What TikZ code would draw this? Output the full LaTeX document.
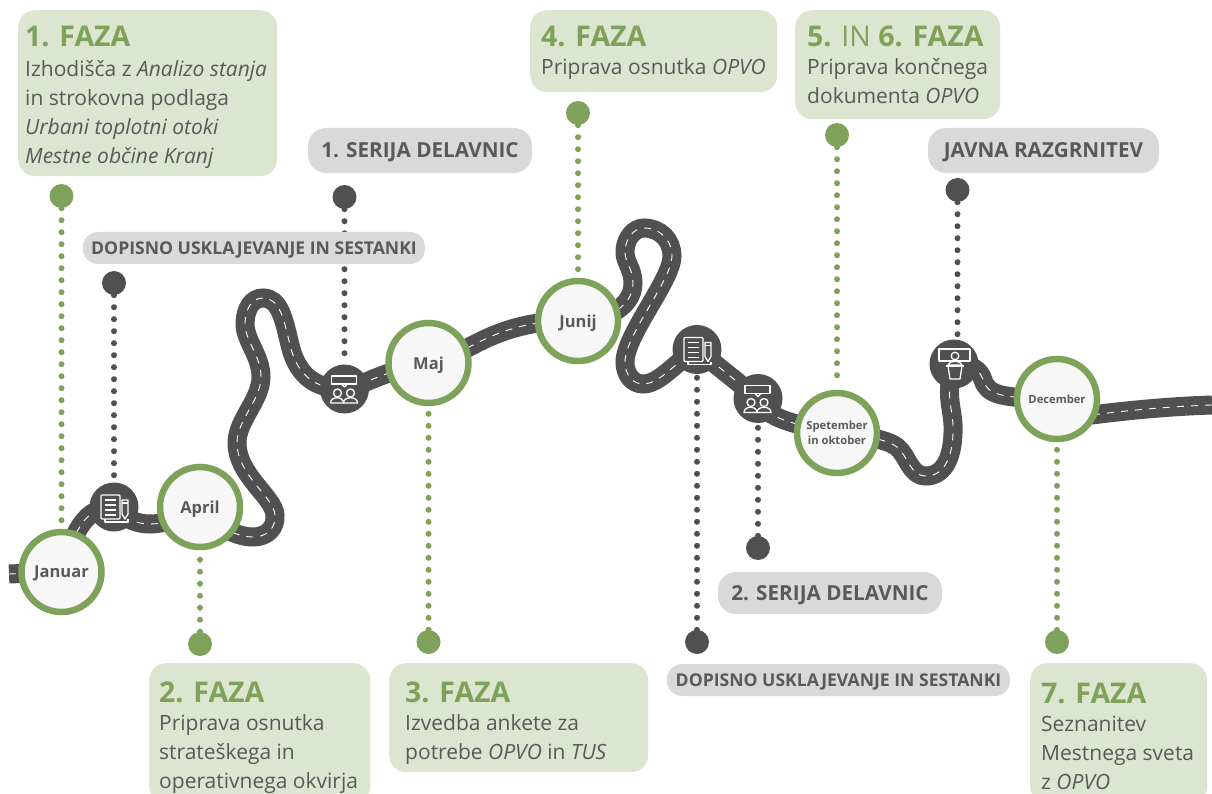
\documentclass[tikz,border=0pt]{standalone}
\usepackage{fontspec}
\setmainfont{Open Sans}
\usetikzlibrary{backgrounds}
\definecolor{leaf}{HTML}{7FA25A}
\definecolor{boxgreen}{HTML}{DCE5CF}
\definecolor{ink}{HTML}{595959}
\definecolor{roadgray}{HTML}{505050}
\definecolor{pillgray}{HTML}{D9D9D9}
\definecolor{disc}{HTML}{F7F7F7}
\tikzset{
  phasebox/.style={fill=boxgreen,draw=none,rounded corners=17pt,anchor=north west,inner sep=0pt,text width=0pt},
  pill/.style={fill=pillgray,rounded corners=15pt,inner sep=0pt,text=ink,text depth=0pt},
  pillbig/.style={pill,rounded corners=18pt,font=\bfseries\fontsize{20.7}{20.7}\selectfont},
  pillsmall/.style={pill,minimum height=32pt,font=\bfseries\fontsize{17.6}{17.6}\selectfont},
  phasetitle/.style={anchor=base west,inner sep=0pt,text=leaf,font=\fontsize{28.5}{28.5}\selectfont},
  phasetext/.style={anchor=north west,inner sep=0pt,text=ink,align=left,font=\fontsize{21}{29}\selectfont},
  month/.style={circle,draw=leaf,fill=disc,line width=6.5pt,minimum size=80pt,inner sep=0pt,text=ink,align=center},
  monthbig/.style={month,text depth=0pt,font=\bfseries\fontsize{16.5}{16.5}\selectfont},
  monthsmall/.style={month,font=\bfseries\fontsize{11.2}{14.5}\selectfont},
  icondisc/.style={circle,fill=roadgray,minimum size=49pt,inner sep=0pt},
  greenpin/.style={circle,fill=leaf,minimum size=24pt,inner sep=0pt},
  graypin/.style={circle,fill=roadgray,minimum size=24pt,inner sep=0pt},
  greendots/.style={draw=leaf,line width=6pt,line cap=round,dash pattern=on 0pt off 12pt},
  graydots/.style={draw=roadgray,line width=6pt,line cap=round,dash pattern=on 0pt off 12pt},
  roadline/.style={draw=roadgray,line width=19pt,postaction={draw=white,line width=0.9pt,dash pattern=on 7pt off 7pt}},
  iconline/.style={draw=white,line width=1.3pt,line join=round,fill=none},
}
\newcommand{\docicon}[1]{\begin{scope}[shift={(#1)},iconline]
  \draw[rounded corners=1pt] (-13,-12) rectangle (6,12);
  \foreach \yy in {-7,-2,3,8} \draw (-9,\yy) -- (2,\yy);
  \draw (8,-7) -- (8,7) -- (11,12) -- (14,7) -- (14,-7) -- cycle;
  \draw (8,-4) -- (14,-4);
  \draw (-9,12) -- (-9,15) -- (14,15) -- (14,12);
\end{scope}}
\newcommand{\meeticon}[1]{\begin{scope}[shift={(#1)},iconline]
  \draw (-13,-13) rectangle (12,-5);
  \draw (-3,-5) -- (0,-2) -- (3,-5);
  \draw (-7,4) circle (4);
  \draw (6,4) circle (4);
  \draw (-14,14) .. controls (-14,7) and (-1,7) .. (-1,14) -- cycle;
  \draw (-1,14) .. controls (-1,7) and (13,7) .. (13,14) -- cycle;
\end{scope}}
\newcommand{\speakicon}[1]{\begin{scope}[shift={(#1)},iconline]
  \draw (-15,-15) rectangle (16,-3);
  \draw[fill=roadgray] (1,-8) circle (3.8);
  \draw[fill=roadgray] (-6,1) .. controls (-5,-4) and (7,-4) .. (8,1) -- cycle;
  \draw (-8,2) -- (10,2);
  \draw (-6,2) -- (-4,15) -- (6,15) -- (8,2);
\end{scope}}
\begin{document}
\begin{tikzpicture}[x=1pt,y=-1pt]
\useasboundingbox (0,0) rectangle (1212,794);
\clip (0,0) rectangle (1212,794);
% milestone discs
\node[monthbig] (jan) at (61.5,572) {Januar};
\node[monthbig] (apr) at (200,507) {April};
\node[monthbig] (maj) at (428.5,363) {Maj};
\node[monthbig] (jun) at (578,321) {Junij};
\node[monthsmall] (sep) at (837,433) {Spetember\\in oktober};
\node[monthsmall] (dec) at (1057,399) {December};
% icon discs
\node[icondisc] (doca) at (114,507) {};
\node[icondisc] (meeta) at (344.5,389) {};
\node[icondisc] (docb) at (697,349.5) {};
\node[icondisc] (meetb) at (758,398.5) {};
\node[icondisc] (speak) at (954,364) {};
\docicon{doca}
\meeticon{meeta}
\docicon{docb}
\meeticon{meetb}
\speakicon{speak}
% pins
\node[greenpin] (p1) at (61.5,196) {};
\node[greenpin] (p2) at (200,644) {};
\node[greenpin] (p3) at (428.5,642) {};
\node[greenpin] (p4) at (578,113) {};
\node[greenpin] (p5) at (837,135) {};
\node[greenpin] (p7) at (1057,642) {};
\node[graypin] (ga) at (114,283) {};
\node[graypin] (gb) at (344.5,197) {};
\node[graypin] (gc) at (957.5,190) {};
\node[graypin] (gd) at (758,548) {};
\node[graypin] (ge) at (697,642) {};
\coordinate (roadstart) at (9,574);
\coordinate (roadend) at (1212,405);
\begin{scope}[on background layer]
  \draw[roadline] (roadstart) -- (jan.center);
  \draw[roadline] (jan.center) .. controls (72,545) and (78,507) .. (doca.center);
  \draw[roadline] (doca.center) .. controls (125,520) and (138,524) .. (150,524) .. controls (165,524) and (180,518) .. (apr.center);
  \draw[roadline] (apr.center) .. controls (215,525) and (235,537) .. (253,537)
    .. controls (268,537) and (276,527) .. (275,515)
    .. controls (274,497) and (237,475) .. (237,443)
    .. controls (237,420) and (261,400) .. (261,377)
    .. controls (261,355) and (244,340) .. (245,322)
    .. controls (246,308) and (252,298) .. (263,298)
    .. controls (280,298) and (284,320) .. (290,345)
    .. controls (296,370) and (310,389) .. (meeta.center);
  \draw[roadline] (meeta.center) .. controls (365,385) and (385,370) .. (maj.center);
  \draw[roadline] (maj.center) .. controls (460,362) and (490,318) .. (jun.center);
  \draw[roadline] (jun.center) .. controls (600,321) and (633,310) .. (633,283)
    .. controls (633,268) and (624,262) .. (625,250)
    .. controls (626,238) and (634,228) .. (644,228)
    .. controls (660,228) and (672,240) .. (672,256)
    .. controls (672,280) and (625,335) .. (625,362)
    .. controls (625,375) and (633,384) .. (643,384)
    .. controls (660,384) and (675,362) .. (docb.center);
  \draw[roadline] (docb.center) -- (meetb.center);
  \draw[roadline] (meetb.center) .. controls (765,420) and (800,425) .. (sep.center);
  \draw[roadline] (sep.center) .. controls (860,436) and (885,438) .. (897,447)
    .. controls (908,456) and (910,476) .. (926,476)
    .. controls (945,476) and (954,455) .. (953,425)
    .. controls (952,405) and (945,395) .. (speak.center);
  \draw[roadline] (speak.center) .. controls (972,364) and (980,370) .. (983,380)
    .. controls (988,395) and (1000,398) .. (dec.center);
  \draw[roadline] (dec.center) .. controls (1070,418) and (1085,416) .. (1100,414)
    .. controls (1140,409) and (1180,406) .. (roadend);
  % dotted leaders
  \draw[greendots,shorten >=3pt] (p1) -- (jan);
  \draw[greendots,shorten >=3pt] (p2) -- (apr);
  \draw[greendots,shorten >=3pt] (p3) -- (maj);
  \draw[greendots,shorten >=3pt] (p4) -- (jun);
  \draw[greendots,shorten >=3pt] (p5) -- (sep);
  \draw[greendots,shorten >=3pt] (p7) -- (dec);
  \draw[graydots,shorten >=2pt] (ga) -- (doca);
  \draw[graydots,shorten >=2pt] (gb) -- (meeta);
  \draw[graydots,shorten >=2pt] (gc) -- (gc|-speak.north);
  \draw[graydots,shorten >=2pt] (gd) -- (meetb);
  \draw[graydots,shorten >=2pt] (ge) -- (docb);
\end{scope}
% phase boxes
\node[phasebox,minimum width=259pt,minimum height=166pt] (b1) at (18,10) {};
\node[phasebox,minimum width=221pt,minimum height=140pt] (b2) at (149,663) {};
\node[phasebox,minimum width=259pt,minimum height=109pt] (b3) at (389,663) {};
\node[phasebox,minimum width=247pt,minimum height=82pt] (b4) at (530,10) {};
\node[phasebox,minimum width=205pt,minimum height=109pt] (b5) at (795,10) {};
\node[phasebox,minimum width=177pt,minimum height=140pt] (b7) at (1030,663) {};
\node[phasetitle] (t1) at (25,47) {\textbf{1. FAZA}};
\node[phasetext] (x1) at (25,60) {Izhodišča z \textit{Analizo stanja}\\in strokovna podlaga\\\textit{Urbani toplotni otoki}\\\textit{Mestne občine Kranj}};
\node[phasetitle] (t2) at (159,702) {\textbf{2. FAZA}};
\node[phasetext] (x2) at (159,714) {Priprava osnutka\\strateškega in\\operativnega okvirja};
\node[phasetitle] (t3) at (405,702) {\textbf{3. FAZA}};
\node[phasetext] (x3) at (405,714) {Izvedba ankete za\\potrebe \textit{OPVO} in \textit{TUS}};
\node[phasetitle] (t4) at (541,47) {\textbf{4. FAZA}};
\node[phasetext] (x4) at (541,58) {Priprava osnutka \textit{OPVO}};
\node[phasetitle] (t5) at (807,47) {\textbf{5.} IN \textbf{6. FAZA}};
\node[phasetext] (x5) at (807,58) {Priprava končnega\\dokumenta \textit{OPVO}};
\node[phasetitle] (t7) at (1041,703) {\textbf{7. FAZA}};
\node[phasetext] (x7) at (1041,716) {Seznanitev\\Mestnega sveta\\z \textit{OPVO}};
% grey labels
\node[pillbig,minimum width=224pt,minimum height=45pt] (l1) at (420,150.5) {1. SERIJA DELAVNIC};
\node[pillsmall,minimum width=342pt] (l2) at (254,248) {DOPISNO USKLAJEVANJE IN SESTANKI};
\node[pillbig,minimum width=231pt,minimum height=45pt] (l3) at (1043.5,150.5) {JAVNA RAZGRNITEV};
\node[pillbig,minimum width=224pt,minimum height=42pt] (l4) at (830,593) {2. SERIJA DELAVNIC};
\node[pillsmall,minimum width=343pt] (l5) at (838.5,680) {DOPISNO USKLAJEVANJE IN SESTANKI};
\end{tikzpicture}
\end{document}
